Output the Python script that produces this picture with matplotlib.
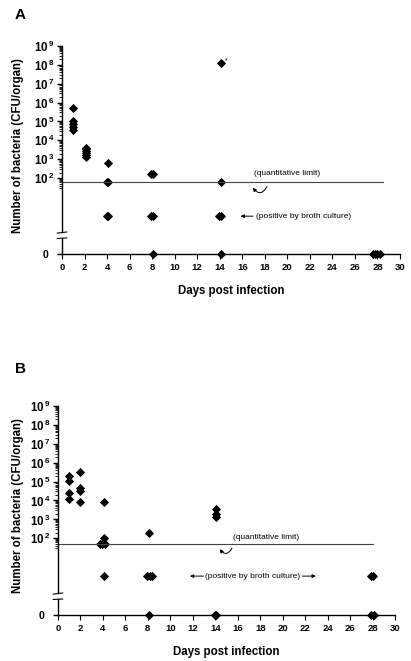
import matplotlib
matplotlib.use("Agg")
import matplotlib.pyplot as plt
from matplotlib.ticker import FixedLocator, NullFormatter

plt.rcParams['font.family'] = ['Liberation Sans', 'DejaVu Sans']
plt.rcParams['mathtext.fontset'] = 'custom'
plt.rcParams['mathtext.rm'] = 'Liberation Sans'
plt.rcParams['mathtext.bf'] = 'Liberation Sans:bold'

# ---------------- data ----------------
# Panel A
A_quant_day = [1, 1, 1, 1, 1, 2.1, 2.1, 2.1, 2.1, 2.1, 2.1, 4.1, 7.9, 8.1, 14.1]
A_quant_cfu = [5e5, 1.1e5, 7e4, 5e4, 3.5e4, 4.2e3, 3.4e3, 2.8e3, 2.2e3, 1.7e3, 1.35e3,
               650, 160, 160, 1.2e8]
A_limit_day = [3.95, 4.1, 14.1]
A_broth_day = [3.95, 4.1, 7.9, 8.1, 13.9, 14.1]
A_zero_day = [8.1, 14.1, 27.6, 27.8, 28.0, 28.2]
A_loq = 63

# Panel B
B_quant_day = [1, 1, 1, 1, 2, 2, 2, 2, 4.1, 4.1, 8.1, 14.1, 14.1, 14.1]
B_quant_cfu = [2e5, 1.1e5, 2.6e4, 1.2e4, 3.3e5, 4.5e4, 3.3e4, 8.5e3,
               8e3, 100, 200, 3.4e3, 1.9e3, 1.3e3]
B_limit_day = [3.7, 3.95, 4.2]
B_broth_day = [4.1, 7.95, 8.15, 8.35, 27.85, 28.0]
B_zero_day = [8.1, 13.95, 14.1, 27.9, 28.15]
B_loq = 50

BROTH_LEVEL = 1.0   # plotting level for "positive by broth culture"
ZERO_LEVEL = 0.0

x_ticks = list(range(0, 31, 2))
y_major = [10 ** k for k in range(2, 10)]
y_major_labels = [r'$\mathbf{10^{\,%d}}$' % k for k in range(2, 10)]
y_minor = [s * 10 ** d for d in range(1, 9) for s in range(2, 10) if s * 10 ** d >= 30]

W, H = 411, 661
fig = plt.figure(figsize=(W / 100, H / 100), dpi=100)
fig.patch.set_facecolor('white')


def px_axes(left, top, right, bottom):
    return fig.add_axes([left / W, 1 - bottom / H, (right - left) / W, (bottom - top) / H])


mk = dict(marker='D', color='black', markersize=3.7, linestyle='none', markeredgewidth=0.6)


def make_panel(left, right, top9, brk, zero_y, px_dec, label, label_y,
               qd, qc, ld, loq, line_end, bd, zd, ylab_center, xlab_pad):
    bottom_lim = 10 ** (9 - (brk - top9) / px_dec)
    axt = px_axes(left, top9, right, brk)
    axb = px_axes(left, brk + 6, right, zero_y)
    for ax in (axt, axb):
        ax.set_xlim(0, 30)
        ax.patch.set_alpha(0)
        for s in ('top', 'right'):
            ax.spines[s].set_visible(False)
        ax.spines['left'].set_linewidth(1.0)
    axt.set_yscale('log')
    axt.set_ylim(bottom_lim, 1e9)
    axt.spines['bottom'].set_visible(False)
    axt.set_xticks([])
    axt.yaxis.set_major_locator(FixedLocator(y_major))
    axt.set_yticklabels(y_major_labels)
    axt.yaxis.set_minor_locator(FixedLocator(y_minor))
    axt.yaxis.set_minor_formatter(NullFormatter())
    axt.tick_params(axis='y', which='major', length=3.5, width=1.0, labelsize=8.3, pad=2)
    axt.tick_params(axis='y', which='minor', length=2, width=0.6)

    axb.set_ylim(0, 1)
    axb.set_yticks([ZERO_LEVEL])
    axb.set_yticklabels(['0'], fontweight='bold')
    axb.tick_params(axis='y', length=3.5, width=1.0, labelsize=7.5, pad=6)
    axb.spines['bottom'].set_linewidth(1.0)
    axb.set_xticks(x_ticks)
    axb.set_xticklabels([str(t) for t in x_ticks], fontweight='bold')
    axb.tick_params(axis='x', length=3.5, width=0.8, labelsize=6.8, pad=3)
    axb.set_xlabel('Days post infection', fontsize=8.3, fontweight='bold', labelpad=xlab_pad)

    # data
    axt.plot(qd, qc, clip_on=False, **mk)
    axt.plot(ld, [loq] * len(ld), clip_on=False, **mk)
    axt.plot(bd, [BROTH_LEVEL] * len(bd), clip_on=False, **mk)
    axb.plot(zd, [ZERO_LEVEL] * len(zd), clip_on=False, zorder=5, **mk)
    axt.plot([0, line_end], [loq, loq], color='#444444', lw=0.8)

    # break marks
    axt.plot([-0.014, 0.014], [-0.006, 0.0], transform=axt.transAxes,
             color='black', lw=0.8, clip_on=False)
    axb.plot([-0.014, 0.014], [0.97, 1.0], transform=axb.transAxes,
             color='black', lw=0.8, clip_on=False)

    fig.text(20 / W, 1 - label_y / H, label, fontsize=11, fontweight='bold',
             ha='center', va='center')
    fig.text(18 / W, 1 - ylab_center / H, 'Number of bacteria (CFU/organ)', rotation=90,
             fontsize=8.3, fontweight='bold', ha='center', va='center')
    return axt, axb


axA, axAb = make_panel(62, 400, 45.7, 232, 254, 18.94, 'A', 15,
                       A_quant_day, A_quant_cfu, A_limit_day, A_loq, 28.45,
                       A_broth_day, A_zero_day, 146, 9)
axB, axBb = make_panel(58, 395, 406, 593, 615, 18.9, 'B', 369,
                       B_quant_day, B_quant_cfu, B_limit_day, B_loq, 28.0,
                       B_broth_day, B_zero_day, 506, 9)

# annotations panel A
axA.text(20.0, 190, '(quantitative limit)', fontsize=6, ha='center', va='center')
axA.annotate('', xy=(16.8, 42), xytext=(18.3, 48),
             arrowprops=dict(arrowstyle='-|>', color='black', lw=0.7,
                             mutation_scale=5, connectionstyle='arc3,rad=-0.9'))
axA.text(21.4, BROTH_LEVEL, '(positive by broth culture)', fontsize=6, ha='center', va='center')
axA.annotate('', xy=(15.6, BROTH_LEVEL), xytext=(17.2, BROTH_LEVEL),
             arrowprops=dict(arrowstyle='-|>', color='black', lw=0.7, mutation_scale=5))
axA.text(14.6, 1.5e8, '*', fontsize=5, ha='center', va='center')

# annotations panel B
axB.text(18.5, 117, '(quantitative limit)', fontsize=6, ha='center', va='center')
axB.annotate('', xy=(14.25, 35), xytext=(15.6, 40),
             arrowprops=dict(arrowstyle='-|>', color='black', lw=0.7,
                             mutation_scale=5, connectionstyle='arc3,rad=-0.9'))
axB.text(17.3, BROTH_LEVEL, '(positive by broth culture)', fontsize=6, ha='center', va='center')
axB.annotate('', xy=(11.5, BROTH_LEVEL), xytext=(13.2, BROTH_LEVEL),
             arrowprops=dict(arrowstyle='-|>', color='black', lw=0.7, mutation_scale=5))
axB.annotate('', xy=(23.2, BROTH_LEVEL), xytext=(21.5, BROTH_LEVEL),
             arrowprops=dict(arrowstyle='-|>', color='black', lw=0.7, mutation_scale=5))

fig.savefig('out.png', dpi=100, facecolor='white')
